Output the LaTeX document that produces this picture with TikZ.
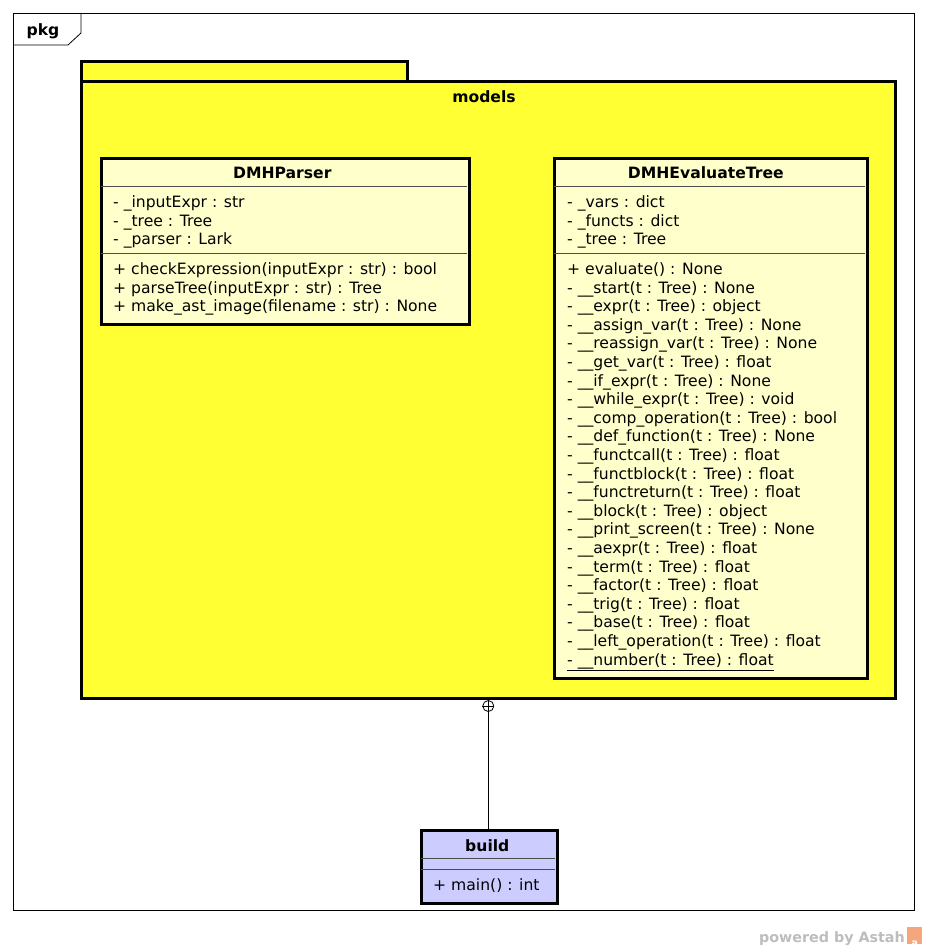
\documentclass[tikz,border=0pt]{standalone}
\usepackage{fontspec}
\setmainfont{DejaVu Sans}
\definecolor{pkgyellow}{HTML}{FFFF33}
\definecolor{classfill}{HTML}{FFFFCC}
\definecolor{buildfill}{HTML}{CCCCFF}
\definecolor{wmgray}{HTML}{BDBDBD}
\definecolor{wmorange}{HTML}{F4A77C}
\begin{document}
\begin{tikzpicture}[x=1pt,y=-1pt,
  member/.style={anchor=base west, inner sep=0pt, font=\fontsize{15.6}{18}\selectfont},
  title/.style={anchor=base, inner sep=0pt, font=\fontsize{15.6}{18}\selectfont\bfseries},
  classbox/.style={draw, line width=2.6pt, fill=classfill, anchor=north west, inner sep=0pt},
  sepline/.style={line width=0.8pt, draw=black!70},
  pkgline/.style={draw, line width=2.6pt, fill=pkgyellow}]
\useasboundingbox (0,0) rectangle (928,950);

% outer frame with its name tab
\node[draw, line width=0.8pt, anchor=north west, minimum width=901, minimum height=897, inner sep=0pt] (frame) at (13,13) {};
\draw[line width=0.8pt] (13,45) -- (68,45) -- (81,33) -- (81,13);
\node[title] (pkglabel) at (43,35.5) {pkg};

% package "models": tab and body
\node[pkgline, anchor=north west, minimum width=326, minimum height=21, inner sep=0pt] (modelstab) at (80,60) {};
\node[pkgline, anchor=north west, minimum width=814, minimum height=617, inner sep=0pt] (models) at (80,80) {};
\node[title] (modelsname) at (484,102.5) {models};

% class DMHParser
\node[classbox, minimum width=368, minimum height=166] (parser) at (100,157) {};
\node[title] (parsername) at ([xshift=-3pt]parser.north |- 0,178.5) {DMHParser};
\draw[sepline] (101,186) -- (467,186);
\draw[sepline] (101,253) -- (467,253);
\foreach \t [count=\i] in {- \_inputExpr : str, - \_tree : Tree, - \_parser : Lark}
  \node[member] (pa\i) at (113,{202+5.5+(\i-1)*18.6}) {\t};
\foreach \t [count=\i] in {+ checkExpression(inputExpr : str) : bool,
                           + parseTree(inputExpr : str) : Tree,
                           + make\_ast\_image(filename : str) : None}
  \node[member] (pm\i) at (113,{269+5.5+(\i-1)*18.6}) {\t};

% class DMHEvaluateTree
\node[classbox, minimum width=313, minimum height=520] (evaltree) at (553,157) {};
\node[title] (evalname) at ([xshift=-5pt]evaltree.north |- 0,178.5) {DMHEvaluateTree};
\draw[sepline] (554,186) -- (865,186);
\draw[sepline] (554,253) -- (865,253);
\foreach \t [count=\i] in {- \_vars : dict, - \_functs : dict, - \_tree : Tree}
  \node[member] (ea\i) at (567,{202+5.5+(\i-1)*18.6}) {\t};
\foreach \t [count=\i] in {+ evaluate() : None,
  - \_\_start(t : Tree) : None,
  - \_\_expr(t : Tree) : object,
  - \_\_assign\_var(t : Tree) : None,
  - \_\_reassign\_var(t : Tree) : None,
  - \_\_get\_var(t : Tree) : float,
  - \_\_if\_expr(t : Tree) : None,
  - \_\_while\_expr(t : Tree) : void,
  - \_\_comp\_operation(t : Tree) : bool,
  - \_\_def\_function(t : Tree) : None,
  - \_\_functcall(t : Tree) : float,
  - \_\_functblock(t : Tree) : float,
  - \_\_functreturn(t : Tree) : float,
  - \_\_block(t : Tree) : object,
  - \_\_print\_screen(t : Tree) : None,
  - \_\_aexpr(t : Tree) : float,
  - \_\_term(t : Tree) : float,
  - \_\_factor(t : Tree) : float,
  - \_\_trig(t : Tree) : float,
  - \_\_base(t : Tree) : float,
  - \_\_left\_operation(t : Tree) : float,
  \underline{- \_\_number(t : Tree) : float}}
  \node[member] (em\i) at (567,{269+5.5+(\i-1)*18.6}) {\t};

% class build
\node[draw, line width=2.6pt, fill=buildfill, anchor=north west, inner sep=0pt,
      minimum width=136, minimum height=73] (build) at (420,829) {};
\node[title] (buildname) at ([xshift=-2pt]build.north |- 0,851) {build};
\draw[sepline] (421,858) -- (555,858);
\draw[sepline] (421,869) -- (555,869);
\node[member] (bm1) at (433,{885+5.5}) {+ main() : int};

% nesting connector: build is nested in models
\node[draw, circle, line width=0.8pt, fill=white, minimum size=11pt, inner sep=0pt, anchor=north]
  (nest) at ([xshift=-1pt,yshift=-0.5pt]build.north |- models.south) {};
\draw[line width=0.8pt] (nest.north) -- (nest.south) (nest.west) -- (nest.east);
\draw[line width=0.8pt] (nest.south) -- (nest.south |- build.north);

% watermark
\node[anchor=base east, inner sep=0pt, text=wmgray, font=\fontsize{14.3}{16}\selectfont\bfseries]
  (powered) at (905,942) {powered by Astah};
\node[fill=wmorange, anchor=north west, minimum width=15pt, minimum height=17pt, inner sep=0pt]
  (astahicon) at (907,927) {};
\draw[white, line width=1pt] ([shift={(2,-6)}]astahicon.north west) -- ([shift={(0,-2)}]astahicon.north)
  -- ([shift={(-2,-6)}]astahicon.north east);
\node[white, inner sep=0pt, font=\fontsize{10}{10}\selectfont\bfseries, anchor=base]
  (astahglyph) at ([yshift=-2pt]astahicon.south) {a};
\end{tikzpicture}
\end{document}
